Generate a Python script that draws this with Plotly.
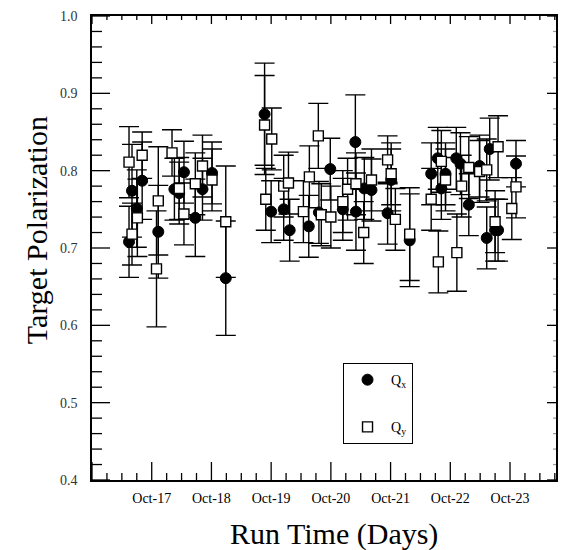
import plotly.graph_objects as go

# Day of October (fractional) for each measurement
qx_day = [16.62, 16.67, 16.75, 16.84, 17.11, 17.38, 17.46, 17.54, 17.73, 17.85,
          18.01, 18.24, 18.89, 19.00, 19.21, 19.31, 19.63, 19.80, 19.99, 20.20,
          20.41, 20.42, 20.56, 20.68, 20.95, 21.01, 21.32, 21.68, 21.79, 21.85,
          21.92, 22.10, 22.17, 22.31, 22.49, 22.61, 22.66, 22.75, 22.80, 23.10]
qx_val = [0.708, 0.774, 0.751, 0.787, 0.721, 0.776, 0.771, 0.798, 0.739, 0.776,
          0.797, 0.661, 0.873, 0.747, 0.750, 0.723, 0.728, 0.746, 0.802, 0.750,
          0.837, 0.747, 0.777, 0.775, 0.745, 0.788, 0.710, 0.796, 0.816, 0.777,
          0.796, 0.816, 0.809, 0.756, 0.806, 0.713, 0.828, 0.723, 0.723, 0.809]
qx_err = [0.046, 0.060, 0.050, 0.050, 0.060, 0.040, 0.040, 0.040, 0.050, 0.040,
          0.040, 0.074, 0.066, 0.040, 0.040, 0.040, 0.040, 0.040, 0.040, 0.040,
          0.061, 0.050, 0.040, 0.040, 0.040, 0.040, 0.060, 0.040, 0.040, 0.040,
          0.040, 0.040, 0.040, 0.040, 0.040, 0.040, 0.040, 0.040, 0.040, 0.030]

qy_day = [16.62, 16.67, 16.76, 16.84, 17.08, 17.11, 17.34, 17.46, 17.54, 17.73,
          17.85, 18.01, 18.24, 18.89, 18.91, 19.01, 19.21, 19.29, 19.54, 19.64,
          19.79, 19.84, 20.00, 20.20, 20.28, 20.42, 20.55, 20.68, 20.95, 21.01,
          21.08, 21.32, 21.68, 21.80, 21.85, 21.92, 22.11, 22.19, 22.31, 22.49,
          22.61, 22.75, 22.80, 23.03, 23.10]
qy_val = [0.811, 0.718, 0.739, 0.820, 0.673, 0.761, 0.823, 0.777, 0.744, 0.783,
          0.806, 0.788, 0.734, 0.859, 0.763, 0.841, 0.780, 0.784, 0.747, 0.792,
          0.845, 0.743, 0.740, 0.760, 0.776, 0.783, 0.720, 0.788, 0.814, 0.796,
          0.737, 0.718, 0.763, 0.682, 0.812, 0.788, 0.694, 0.780, 0.804, 0.799,
          0.801, 0.734, 0.831, 0.751, 0.779]
qy_err = [0.046, 0.040, 0.050, 0.030, 0.075, 0.070, 0.030, 0.040, 0.040, 0.040,
          0.040, 0.040, 0.072, 0.064, 0.040, 0.040, 0.040, 0.040, 0.040, 0.040,
          0.042, 0.040, 0.040, 0.040, 0.040, 0.040, 0.040, 0.040, 0.031, 0.040,
          0.040, 0.060, 0.040, 0.040, 0.040, 0.040, 0.050, 0.040, 0.040, 0.040,
          0.040, 0.040, 0.040, 0.040, 0.040]

tick_days = [17, 18, 19, 20, 21, 22, 23]
tick_text = ["Oct-17", "Oct-18", "Oct-19", "Oct-20", "Oct-21", "Oct-22", "Oct-23"]

SERIF = "Liberation Serif, Times New Roman, serif"
X_RANGE = [16, 23.77]
Y_RANGE = [0.4, 1.0]

ML, MR, MT, MB, W, H = 84, 22, 8, 70, 570, 542
PX_PER_DAY = (W - ML - MR) / (X_RANGE[1] - X_RANGE[0])
PX_PER_UNIT = (H - MT - MB) / (Y_RANGE[1] - Y_RANGE[0])

# ---- inside tick marks (axis decoration) built from the axis scales ----
tick_x, tick_y = [], []          # black ticks
faint_x, faint_y = [], []        # faint minor ticks on the right edge

def add_seg(xs, ys, x0, x1, y0, y1):
    xs.extend([x0, x1, None])
    ys.extend([y0, y1, None])

for k in range(0, 31):                      # y ticks every 0.02
    v = round(Y_RANGE[0] + 0.02 * k, 2)
    major = (k % 5 == 0)
    L = (18 if major else 10) / PX_PER_DAY
    add_seg(tick_x, tick_y, X_RANGE[0], X_RANGE[0] + L, v, v)
    if major:
        add_seg(tick_x, tick_y, X_RANGE[1], X_RANGE[1] - 9 / PX_PER_DAY, v, v)
    else:
        add_seg(faint_x, faint_y, X_RANGE[1], X_RANGE[1] - 3 / PX_PER_DAY, v, v)
for k in range(0, 32):                      # x ticks every quarter day
    d = X_RANGE[0] + 0.25 * k
    major = (k % 4 == 0)
    L = (18 if major else 7) / PX_PER_UNIT
    add_seg(tick_x, tick_y, d, d, Y_RANGE[0], Y_RANGE[0] + L)
    Lt = (8 if major else 4) / PX_PER_UNIT
    add_seg(tick_x, tick_y, d, d, Y_RANGE[1], Y_RANGE[1] - Lt)

fig = go.Figure()
fig.add_trace(go.Scatter(x=tick_x, y=tick_y, mode="lines", line=dict(color="black", width=1.3),
                         showlegend=False, hoverinfo="skip", cliponaxis=False))
fig.add_trace(go.Scatter(x=faint_x, y=faint_y, mode="lines", line=dict(color="#999999", width=1.2),
                         showlegend=False, hoverinfo="skip", cliponaxis=False))
fig.add_trace(go.Scatter(
    x=qx_day, y=qx_val, mode="markers", name="Q<sub>x</sub>", legendgroup="a",
    marker=dict(symbol="circle", size=11, color="black", line=dict(color="black", width=1)),
    error_y=dict(type="data", array=qx_err, visible=True, color="black", thickness=1.4, width=10),
))
fig.add_trace(go.Scatter(
    x=qy_day, y=qy_val, mode="markers", name="Q<sub>y</sub>", legendgroup="b",
    marker=dict(symbol="square", size=10, color="white", line=dict(color="black", width=1.4)),
    error_y=dict(type="data", array=qy_err, visible=True, color="black", thickness=1.4, width=10),
))

# page body has an 8px margin, so the figure is offset by 8px
fig.update_layout(
    width=W, height=H,
    margin=dict(l=ML, r=MR, t=MT, b=MB, autoexpand=False),
    paper_bgcolor="white", plot_bgcolor="white",
    font=dict(family=SERIF, color="black", size=11),
    showlegend=True,
    legend=dict(x=0.541, y=0.252, xanchor="left", yanchor="top",
                bordercolor="black", borderwidth=1, bgcolor="white",
                font=dict(family=SERIF, size=14), tracegroupgap=26,
                itemwidth=37, entrywidth=100, entrywidthmode="pixels"),
    xaxis=dict(range=X_RANGE, tickvals=tick_days, ticktext=tick_text, automargin=False,
               ticks="", showline=True, linecolor="black", linewidth=1.5, mirror=True,
               showgrid=False, zeroline=False,
               tickfont=dict(family=SERIF, size=14), ticklabelstandoff=4),
    yaxis=dict(range=Y_RANGE, dtick=0.1, tick0=0.4, tickformat=".1f", automargin=False,
               ticks="", showline=True, linecolor="black", linewidth=1.5, mirror=True,
               showgrid=False, zeroline=False,
               tickfont=dict(family=SERIF, size=14, color="#333333"), ticklabelstandoff=10),
    annotations=[
        dict(text="Target Polarization", textangle=-90, xref="paper", yref="paper",
             x=-0.118, y=0.539, xanchor="center", yanchor="middle", showarrow=False,
             font=dict(family=SERIF, size=30, color="black")),
        dict(text="Run Time (Days)", xref="paper", yref="paper",
             x=0.522, y=-0.116, xanchor="center", yanchor="middle", showarrow=False,
             font=dict(family=SERIF, size=30, color="black")),
    ],
)

fig.write_html("out.html")
